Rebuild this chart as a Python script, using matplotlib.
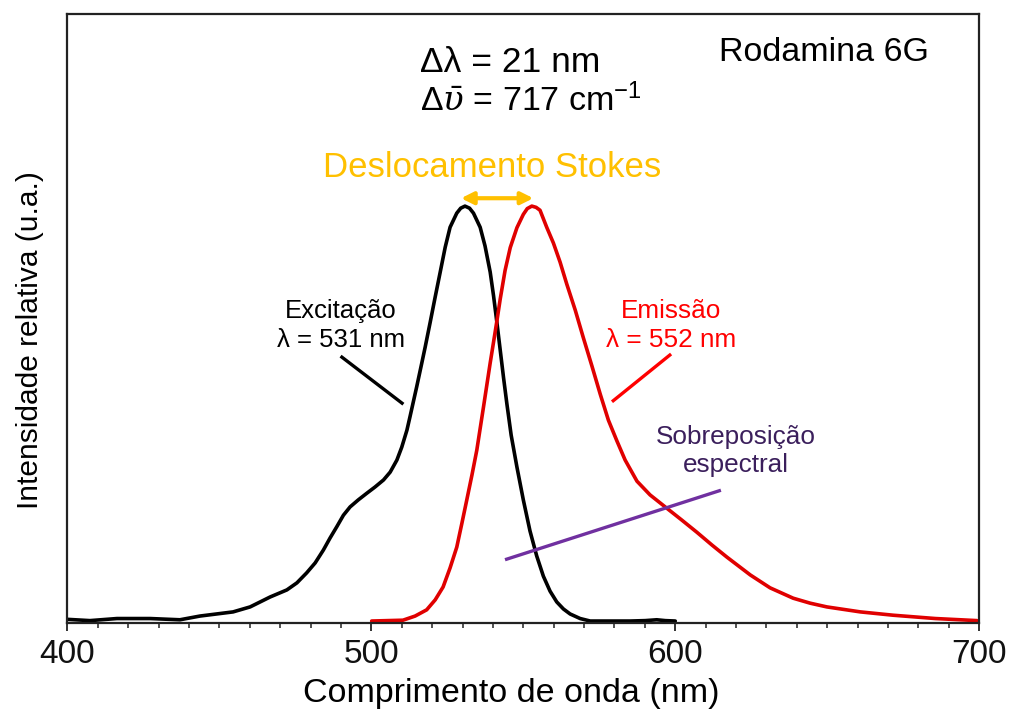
import matplotlib
matplotlib.use("Agg")
import matplotlib.pyplot as plt
from matplotlib.ticker import MultipleLocator

# Excitation spectrum of Rhodamine 6G (normalised)
ex_wavelength = [400.1, 407.4, 416.3, 427.2, 437.0, 443.6, 454.5, 460.1, 466.7, 472.2,
                 475.5, 478.7, 481.5, 484.2, 486.4, 488.6, 490.8, 493.0, 495.7, 498.5,
                 501.2, 504.0, 506.2, 508.4, 510.0, 511.7, 512.7, 513.8, 514.9, 516.6,
                 517.7, 519.3, 521.0, 522.6, 524.3, 525.9, 528.1, 529.4, 530.8, 532.3,
                 533.6, 535.8, 537.4, 539.1, 540.2, 541.3, 542.4, 543.5, 544.6, 546.0,
                 547.9, 550.0, 552.2, 554.4, 556.6, 558.8, 561.0, 563.2, 565.4, 568.7,
                 572.0, 578.6, 585.2, 590.1, 593.9, 596.7, 600.0]
ex_intensity = [0.004, 0.001, 0.006, 0.006, 0.003, 0.012, 0.022, 0.034, 0.058, 0.075,
                0.092, 0.116, 0.140, 0.171, 0.200, 0.227, 0.255, 0.275, 0.292, 0.308,
                0.323, 0.340, 0.359, 0.388, 0.419, 0.460, 0.492, 0.528, 0.564, 0.622,
                0.660, 0.718, 0.781, 0.839, 0.901, 0.949, 0.983, 0.995, 1.000, 0.995,
                0.983, 0.949, 0.904, 0.841, 0.784, 0.720, 0.653, 0.586, 0.523, 0.448,
                0.371, 0.292, 0.217, 0.157, 0.108, 0.072, 0.046, 0.029, 0.017, 0.006,
                0.000, 0.000, 0.000, 0.001, 0.003, 0.001, 0.000]

# Emission spectrum of Rhodamine 6G (normalised)
em_wavelength = [500.1, 510.4, 514.4, 518.2, 521.0, 523.6, 525.9, 528.1, 529.8, 531.4,
                 533.1, 534.7, 536.9, 538.0, 539.1, 540.2, 541.3, 542.4, 544.0, 545.7,
                 547.9, 550.0, 551.3, 552.8, 554.2, 555.5, 557.7, 559.9, 562.1, 564.3,
                 567.1, 569.7, 572.6, 575.3, 578.0, 580.8, 583.5, 587.4, 591.7, 597.2,
                 602.2, 607.1, 612.1, 617.0, 624.7, 631.2, 638.8, 644.4, 649.9, 660.9,
                 671.7, 685.6, 699.3]
em_intensity = [0.000, 0.002, 0.012, 0.027, 0.051, 0.082, 0.128, 0.178, 0.236, 0.292,
                0.352, 0.412, 0.516, 0.569, 0.622, 0.672, 0.723, 0.776, 0.845, 0.900,
                0.948, 0.980, 0.994, 1.000, 0.997, 0.990, 0.949, 0.911, 0.865, 0.812,
                0.749, 0.684, 0.614, 0.547, 0.484, 0.434, 0.388, 0.337, 0.304, 0.272,
                0.243, 0.214, 0.183, 0.154, 0.111, 0.080, 0.055, 0.043, 0.034, 0.022,
                0.014, 0.006, 0.001]

ex_peak = 531          # nm
em_peak = 552          # nm
stokes_shift_cm = 717  # cm^-1
x_ticks = [400, 500, 600, 700]

stokes_nm = em_peak - ex_peak

plt.rcParams['font.family'] = ['Liberation Sans', 'DejaVu Sans']
plt.rcParams['mathtext.fontset'] = 'dejavuserif'

fig = plt.figure(figsize=(10.13, 7.13), dpi=100)
ax = fig.add_axes([0.0666, 0.1262, 0.900, 0.854])

ax.plot(ex_wavelength, ex_intensity, color='black', lw=2.6,
        solid_capstyle='round', solid_joinstyle='round')
ax.plot(em_wavelength, em_intensity, color='#E00000', lw=2.6,
        solid_capstyle='round', solid_joinstyle='round')

ax.set_xlim(400, 700)
ax.set_ylim(-0.0048, 1.4627)
ax.set_yticks([])
ax.set_xticks(x_ticks)
ax.xaxis.set_minor_locator(MultipleLocator(10))
ax.tick_params(axis='x', which='major', direction='out', length=6, width=1.3,
               pad=5.5, labelsize=24, colors='#222222')
ax.tick_params(axis='x', which='minor', direction='out', length=3.6, width=1.1,
               colors='#222222')
for lab in ax.get_xticklabels():
    lab.set_family(['Liberation Sans Narrow', 'Liberation Sans'])
    lab.set_color('#111111')
for s in ax.spines.values():
    s.set_linewidth(1.6)
    s.set_color('#222222')

ax.set_xlabel('Comprimento de onda (nm)', fontsize=24.5)
ax.xaxis.set_label_coords(0.4866, -0.115)
ax.xaxis.label.set_va('center')
ax.set_ylabel('Intensidade relativa (u.a.)', fontsize=21.5)
ax.yaxis.set_label_coords(-0.041, 0.465)
ax.yaxis.label.set_va('center')

# Header texts
ax.text(516.0, 1.345, f'Δλ = {stokes_nm} nm', fontsize=25.5, ha='left', va='center')
ax.text(516.0, 1.253,
        'Δ' + r'$\bar{\upsilon}$' + f' = {stokes_shift_cm} cm' + r'$^{\mathregular{-1}}$',
        fontsize=24.5, ha='left', va='center')
ax.text(648.8, 1.371, 'Rodamina 6G', fontsize=24.5, ha='center', va='center')

# Stokes shift
ax.text(539.7, 1.094, 'Deslocamento Stokes', fontsize=25, color='#FFC000',
        ha='center', va='center')
ax.annotate('', xy=(em_peak + 1.3, 1.019), xytext=(ex_peak - 1.5, 1.019),
            arrowprops=dict(arrowstyle='<|-|>', color='#FFC000', lw=3.0,
                            mutation_scale=18, shrinkA=0, shrinkB=0))

# Peak labels
ax.text(490.0, 0.713, f'Excitação\nλ = {ex_peak} nm', fontsize=18.5, ha='center',
        va='center', linespacing=1.25)
ax.plot([490.3, 510.1], [0.636, 0.525], color='black', lw=2.4)
ax.text(598.7, 0.713, f'Emissão\nλ = {em_peak} nm', fontsize=18.8, ha='center',
        va='center', linespacing=1.25, color='#FF0000')
ax.plot([598.2, 579.6], [0.641, 0.531], color='#FF0000', lw=2.4)

# Spectral overlap
ax.text(620.0, 0.41, 'Sobreposição\nespectral', fontsize=18.8, ha='center',
        va='center', linespacing=1.2, color='#3B1F5C')
ax.plot([544.5, 614.5], [0.149, 0.314], color='#7030A0', lw=2.4)

fig.savefig('out.png', dpi=100)
